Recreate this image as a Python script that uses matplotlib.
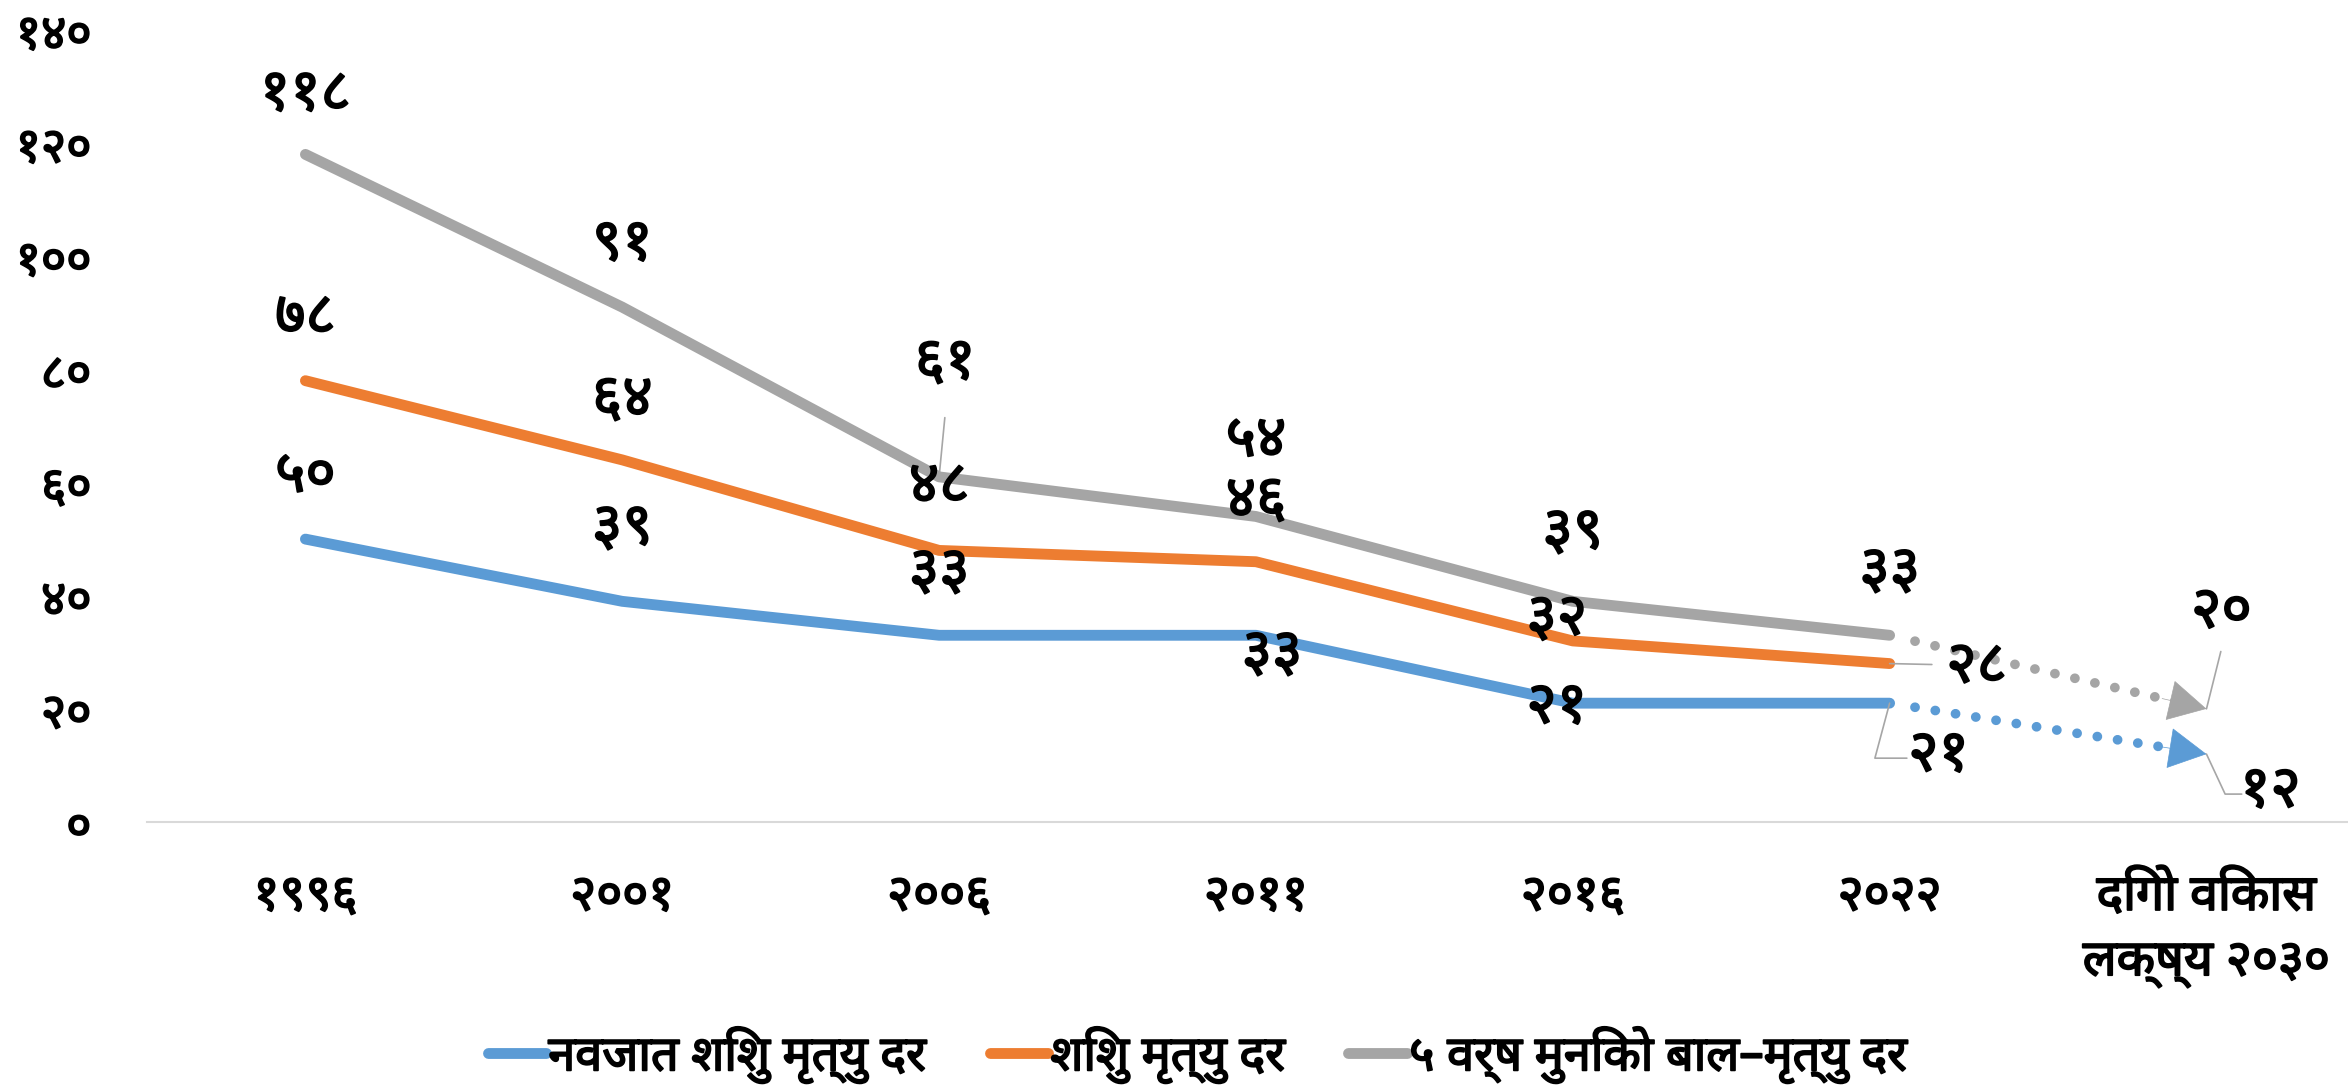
import matplotlib
matplotlib.use("Agg")
import matplotlib.pyplot as plt
import matplotlib.patheffects as pe

plt.rcParams['font.family'] = ['Noto Sans Devanagari', 'DejaVu Sans']

categories = ["१९९६", "२००१", "२००६", "२०११", "२०१६", "२०२२", "दिगो विकास\nलक्ष्य २०३०"]
series_names = ["नवजात शिशु मृत्यु दर", "शिशु मृत्यु दर", "५ वर्ष मुनिको बाल–मृत्यु दर"]

newborn = [50, 39, 33, 33, 21, 21]
infant = [78, 64, 48, 46, 32, 28]
under5 = [118, 91, 61, 54, 39, 33]
newborn_target = 12
under5_target = 20

newborn_lbl = ["५०", "३९", "३३", "३३", "२१", "२१"]
infant_lbl = ["७८", "६४", "४८", "४६", "३२", "२८"]
under5_lbl = ["११८", "९१", "६१", "५४", "३९", "३३"]
newborn_target_lbl = "१२"
under5_target_lbl = "२०"

yticks = [0, 20, 40, 60, 80, 100, 120, 140]
ytick_lbl = ["०", "२०", "४०", "६०", "८०", "१००", "१२०", "१४०"]

blue = "#5B9BD5"
orange = "#ED7D31"
gray = "#A5A5A5"

heavy = [pe.withStroke(linewidth=1.3, foreground="black")]

fig = plt.figure(figsize=(23.48, 10.88), dpi=100)
ax = fig.add_axes([0.0626, 0.2445, 0.9446, 0.728])

x = list(range(len(newborn)))
lw = 7.8
ax.plot(x, newborn, color=blue, lw=lw, solid_capstyle="round", solid_joinstyle="round", label=series_names[0])
ax.plot(x, infant, color=orange, lw=lw, solid_capstyle="round", solid_joinstyle="round", label=series_names[1])
ax.plot(x, under5, color=gray, lw=lw, solid_capstyle="round", solid_joinstyle="round", label=series_names[2])

# dotted projections to the 2030 target with arrow heads
xt = len(categories) - 1
for start, end, col in [(newborn[-1], newborn_target, blue), (under5[-1], under5_target, gray)]:
    x0 = x[-1] + 0.08
    y0 = start + (end - start) * 0.08
    ax.plot([x0, xt - 0.1], [y0, end - (end - start) * 0.1], color=col, lw=7,
            linestyle=(0, (0.01, 2.1)), dash_capstyle="round")
    xa = xt - 0.14
    ya = end - (end - start) * 0.14
    ax.annotate("", xy=(xt, end), xytext=(xa, ya),
                arrowprops=dict(arrowstyle="-|>,head_length=1.3,head_width=0.7", color=col,
                                lw=0.5, mutation_scale=20, shrinkA=0, shrinkB=0))

lblkw = dict(textcoords="offset pixels", ha="center", va="center", fontsize=42, path_effects=heavy)
lead = dict(arrowstyle="-", color="#A6A6A6", lw=1.2, shrinkA=2, shrinkB=0)

# offsets (px) of each label from its point
under5_off = [(0, 60), (0, 63), (6, 114), (0, 76), (0, 69), (0, 64)]
infant_off = [(0, 63), (0, 60), (0, 64), (0, 61), (-16, 22), (87, -3)]
newborn_off = [(0, 63), (0, 73), (0, 63), (16, -19), (-16, -4), (49, -52)]

for vals, lbls, offs in [(under5, under5_lbl, under5_off), (infant, infant_lbl, infant_off),
                         (newborn, newborn_lbl, newborn_off)]:
    for i, (v, t, o) in enumerate(zip(vals, lbls, offs)):
        ax.annotate(t, xy=(i, v), xytext=o, **lblkw)

# labels with leader lines
ax.annotate("", xy=(2, under5[2]), xytext=(6, 62), textcoords="offset pixels", arrowprops=lead)
ax.annotate("", xy=(5, infant[5]), xytext=(45, -1), textcoords="offset pixels", arrowprops=lead)
ax.annotate("", xy=(5, newborn[5]), xytext=(20, -55), textcoords="offset pixels",
            arrowprops=dict(lead, connectionstyle="angle,angleA=0,angleB=75,rad=0"))
ax.annotate(under5_target_lbl, xy=(xt, under5_target), xytext=(15, 97), **lblkw)
ax.annotate("", xy=(xt, under5_target), xytext=(15, 60), textcoords="offset pixels", arrowprops=lead)
ax.annotate(newborn_target_lbl, xy=(xt, newborn_target), xytext=(64, -37), **lblkw)
ax.annotate("", xy=(xt, newborn_target), xytext=(38, -40), textcoords="offset pixels",
            arrowprops=dict(lead, connectionstyle="angle,angleA=0,angleB=-65,rad=0"))

ax.set_xlim(-0.5, len(categories) - 0.5)
ax.set_ylim(0, 140)
ax.set_xticks(range(len(categories)))
ax.set_xticklabels(categories, fontsize=36, linespacing=1.4, path_effects=heavy)
ax.set_yticks(yticks)
ax.set_yticklabels(ytick_lbl, fontsize=35, path_effects=heavy)
ax.tick_params(axis="x", length=0, pad=36)
ax.tick_params(axis="y", length=0, pad=40)
for s in ["top", "right", "left"]:
    ax.spines[s].set_visible(False)
ax.spines["bottom"].set_color("#D9D9D9")
ax.spines["bottom"].set_linewidth(1.5)

leg = fig.legend(loc="center", bbox_to_anchor=(0.51, 0.03), ncol=3, frameon=False,
                 handlelength=1.2, handletextpad=0.05, columnspacing=1.3,
                 prop=dict(size=35))
for t in leg.get_texts():
    t.set_path_effects(heavy)

fig.savefig("out.png")
